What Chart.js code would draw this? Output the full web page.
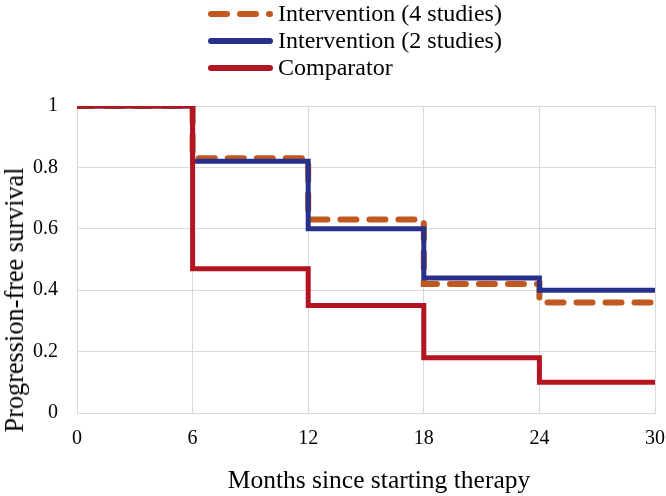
<!DOCTYPE html>
<html>
<head>
<meta charset="utf-8">
<script src="https://cdn.jsdelivr.net/npm/chart.js@4"></script>
<style>
  body { margin: 0; background: #fff; }
  #wrap { position: relative; width: 666px; height: 496px; overflow: hidden; }
  #wrap canvas { position: absolute; left: 0; top: 0; }
  .serif { font-family: 'Liberation Serif', 'Times New Roman', serif; color: #000; white-space: nowrap; }
  #legend { position: absolute; left: 204px; top: 0px; font-size: 24px; }
  .item { height: 27px; display: flex; align-items: center; }
  .item svg { margin-right: 2px; }
  #xtitle { position: absolute; left: 379px; top: 480px; font-size: 25.5px; transform: translate(-50%, -50%); }
  #ytitle { position: absolute; left: 15px; top: 300px; font-size: 26.3px; transform: translate(-50%, -50%) rotate(-90deg); }
</style>
</head>
<body>
<div id="wrap">
  <canvas id="myChart" width="680" height="496"></canvas>
  <div id="legend" class="serif"></div>
  <div id="xtitle" class="serif"></div>
  <div id="ytitle" class="serif"></div>
</div>
<script>
// eixo x (meses)
var months = [0, 6, 12, 18, 24, 30]
var xTicks = [0, 6, 12, 18, 24, 30]
var yTicks = [0, 0.2, 0.4, 0.6, 0.8, 1]

// sobrevida em cada intervalo
var interv4 = [1, 0.83, 0.63, 0.42, 0.36, 0.36]
var interv2 = [1, 0.82, 0.60, 0.44, 0.40, 0.40]
var comparator = [1, 0.47, 0.35, 0.18, 0.10, 0.10]

var names = ['Intervention (4 studies)', 'Intervention (2 studies)', 'Comparator']
var cores = ['#C0581F', '#27308A', '#B2151F']
var xTitle = 'Months since starting therapy'
var yTitle = 'Progression-free survival'

var serif = "'Liberation Serif', 'Times New Roman', serif"
Chart.defaults.font.family = serif

function pontos(vals) {
    return months.map(function (m, i) { return { x: m, y: vals[i] } })
}

let ctx = document.getElementById('myChart').getContext('2d');
let chart = new Chart(ctx, {
    type: 'line',
    data: {
        datasets: [{
            label: names[0],
            data: pontos(interv4),
            borderColor: cores[0],
            borderWidth: 6,
            borderDash: [16, 13],
            borderCapStyle: 'round',
            stepped: 'before',
            order: 2
        }, {
            label: names[1],
            data: pontos(interv2),
            borderColor: cores[1],
            borderWidth: 5,
            stepped: 'before',
            order: 1
        }, {
            label: names[2],
            data: pontos(comparator),
            borderColor: cores[2],
            borderWidth: 5,
            stepped: 'before',
            order: 0
        }]
    },
    options: {
        responsive: false,
        animation: false,
        elements: { point: { radius: 0 } },
        layout: { padding: { top: 106, right: 25, left: 0, bottom: 0 } },
        plugins: { legend: { display: false }, tooltip: { enabled: false } },
        scales: {
            x: {
                type: 'linear',
                min: 0, max: 30,
                afterBuildTicks: function (s) { s.ticks = xTicks.map(function (v) { return { value: v } }) },
                afterFit: function (s) { s.height = 496 - 413 },
                grid: { color: '#d9d9d9', lineWidth: 1, drawTicks: false },
                border: { color: '#d9d9d9' },
                ticks: { color: '#000', font: { family: serif, size: 20 }, padding: 14, maxRotation: 0,
                    callback: function (v) { return String(v) } }
            },
            y: {
                min: 0, max: 1,
                afterBuildTicks: function (s) { s.ticks = yTicks.map(function (v) { return { value: v } }) },
                afterFit: function (s) { s.width = 77 },
                grid: { color: '#d9d9d9', lineWidth: 1, drawTicks: false },
                border: { color: '#d9d9d9' },
                ticks: { color: '#000', font: { family: serif, size: 20 }, padding: 19,
                    callback: function (v) { return String(v) } }
            }
        }
    }
});

// titulos dos eixos
document.getElementById('xtitle').textContent = xTitle
document.getElementById('ytitle').textContent = yTitle

// legenda em html
var leg = document.getElementById('legend')
chart.data.datasets.forEach(function (d) {
    var dash = d.borderDash ? ' stroke-dasharray="16 13"' : ''
    leg.innerHTML += '<div class="item"><svg width="72" height="10">' +
        '<line x1="7" y1="5" x2="66" y2="5" stroke="' + d.borderColor + '" stroke-width="6" stroke-linecap="round"' + dash + '/></svg>' +
        '<span>' + d.label + '</span></div>'
})
</script>
</body>
</html>
